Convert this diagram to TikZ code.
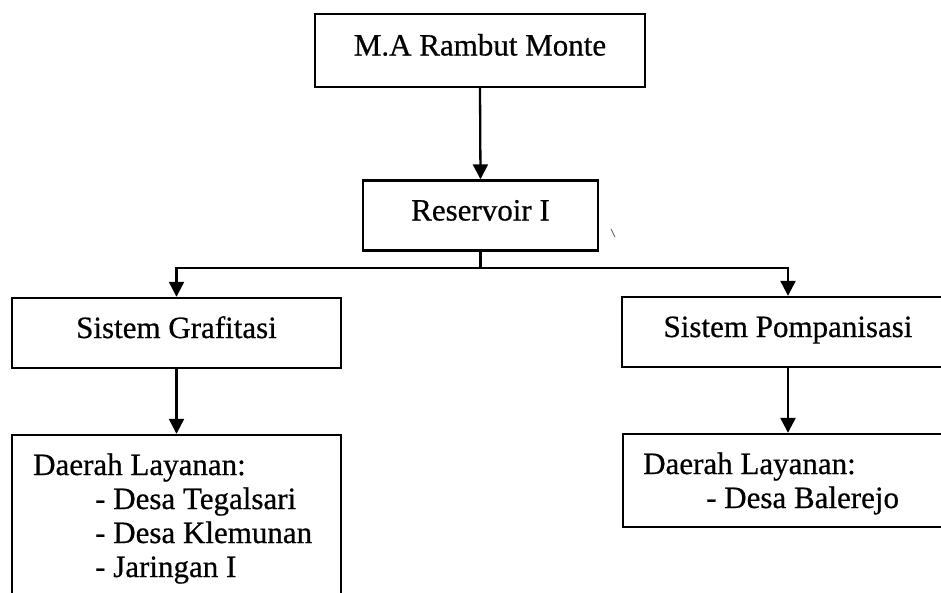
\documentclass[tikz,border=0pt]{standalone}
\usepackage{fontspec}
\setmainfont{Liberation Serif}
\newfontfamily\inkfont{Liberation Serif}[FakeBold=0.6]
\usetikzlibrary{arrows.meta}
\begin{document}
\begin{tikzpicture}[x=1pt,y=-1pt,
  box/.style={draw=black,line width=2.4pt,rectangle,inner sep=0pt,text height=16pt,text depth=6pt,font=\inkfont\fontsize{31}{34}\selectfont},
  lbl/.style={inner sep=0pt,anchor=base west,font=\inkfont\fontsize{31}{34}\selectfont},
  conn/.style={draw=black,line width=2.3pt},
  arr/.style={conn,-{Triangle[width=15pt,length=15pt]}}]
\useasboundingbox (0,0) rectangle (941,592);
\clip (0,0) rectangle (941,592);
\fill[white] (0,0) rectangle (941,592);
% boxes
\node[box,minimum width=330pt,minimum height=73pt] (src) at (480,50.5) {M.A Rambut Monte};
\node[box,minimum width=235pt,minimum height=70pt] (res) at (480.5,215.5) {Reservoir I};
\node[box,minimum width=329pt,minimum height=70pt] (graf) at (176.5,333) {Sistem Grafitasi};
\node[box,minimum width=332pt,minimum height=70pt] (pomp) at (788,332) {Sistem Pompanisasi};
\node[box,minimum width=329pt,minimum height=190pt] (dl) at (176.5,530) {};
\node[box,minimum width=330pt,minimum height=93pt] (dr) at (788,480.5) {};
% texts in service boxes
\node[lbl] (dl1) at (33,475) {Daerah Layanan:};
\node[lbl] (dl2) at (95,509) {- Desa Tegalsari};
\node[lbl] (dl3) at (95,543) {- Desa Klemunan};
\node[lbl] (dl4) at (95,577) {- Jaringan I};
\node[lbl] (dr1) at (643,474) {Daerah Layanan:};
\node[lbl] (dr2) at (706,508) {- Desa Balerejo};
% connectors
\coordinate (split) at (res.south |- 0,268);
\draw[arr] (src.south) -- (res.north);
\draw[conn] (res.south) -- (split);
\draw[arr] (split) -| (graf.north);
\draw[arr] (split) -| (pomp.north);
\draw[arr] (graf.south) -- (dl.north);
\draw[arr] (pomp.south) -- (dr.north);
% stray mark
\draw[line width=0.8pt,gray!70!black] (611,229) -- (615,237);
\end{tikzpicture}
\end{document}
